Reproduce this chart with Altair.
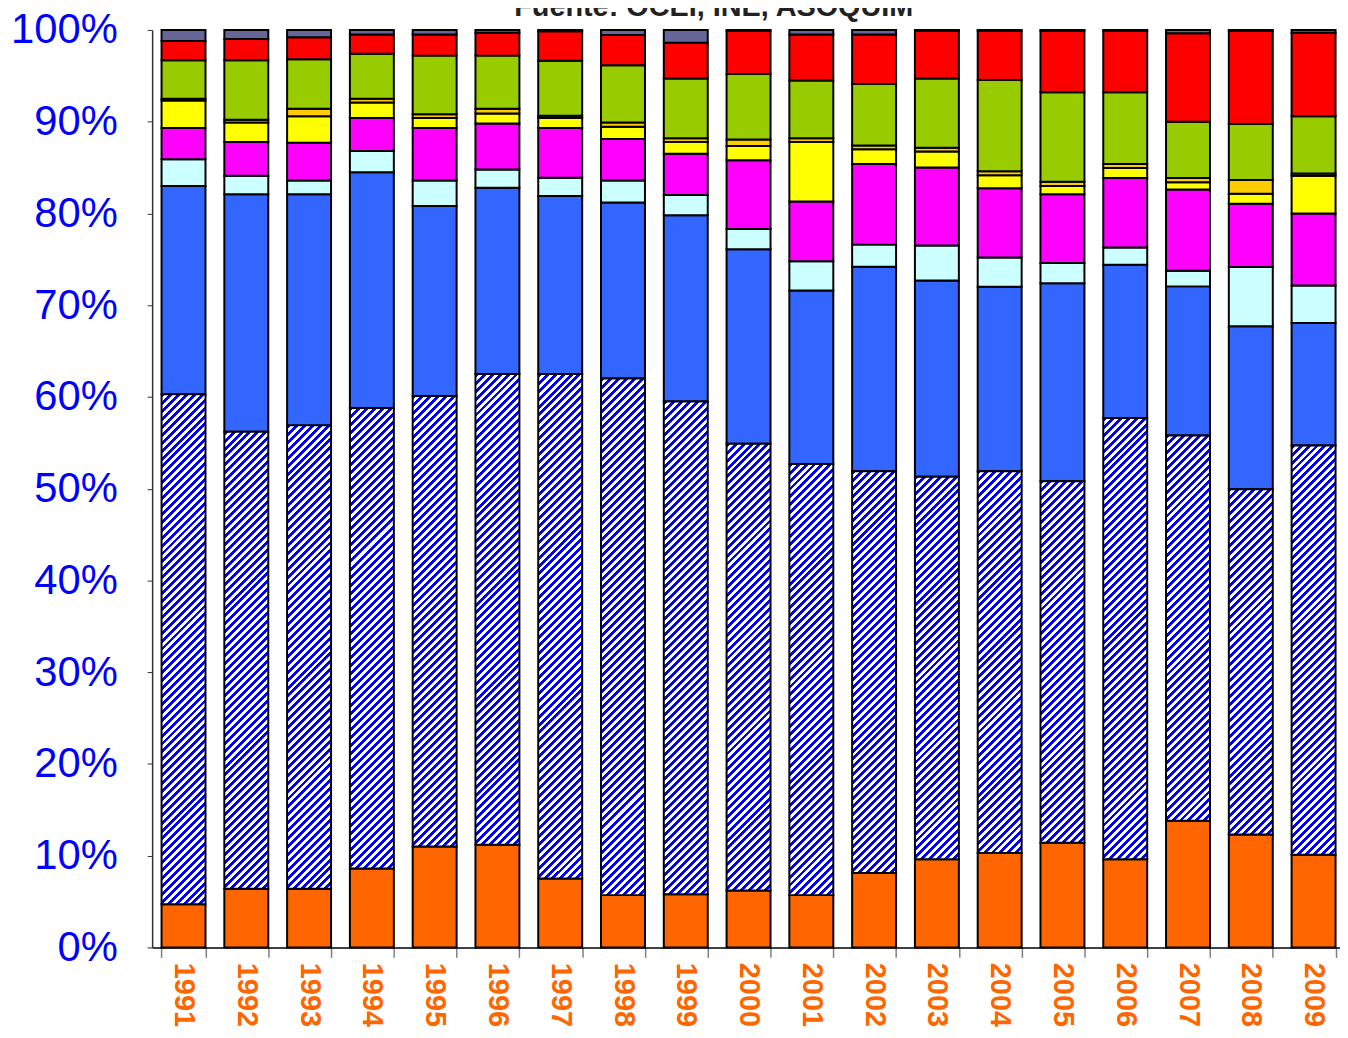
import altair as alt
import pandas as pd

# ---------------- data ----------------
years = [str(y) for y in range(1991, 2010)]

series_names = ["Naranja", "Azul rayado", "Azul", "Celeste", "Magenta",
                "Amarillo", "Dorado", "Verde", "Rojo", "Gris"]
series_colors = ["#FF6600", "#0000FF", "#3366FF", "#CCFFFF", "#FF00FF",
                 "#FFFF00", "#FFCC00", "#99CC00", "#FF0000", "#666699"]

s_orange = [4.7, 6.4, 6.4, 8.6, 11.0, 11.2, 7.5, 5.7, 5.8, 6.2, 5.7, 8.1, 9.6, 10.3, 11.4, 9.6, 13.8, 12.3, 10.1]
s_hatch = [55.6, 49.8, 50.5, 50.2, 49.1, 51.3, 55.0, 56.3, 53.7, 48.7, 47.0, 43.8, 41.7, 41.6, 39.4, 48.1, 42.0, 37.65, 44.6]
s_blue = [22.7, 25.9, 25.2, 25.7, 20.7, 20.3, 19.4, 19.2, 20.3, 21.2, 18.9, 22.3, 21.4, 20.1, 21.6, 16.7, 16.25, 17.75, 13.35]
s_cyan = [2.9, 2.0, 1.5, 2.3, 2.8, 2.0, 2.0, 2.4, 2.2, 2.2, 3.2, 2.4, 3.8, 3.2, 2.2, 1.9, 1.7, 6.45, 4.1]
s_magenta = [3.4, 3.7, 4.1, 3.6, 5.7, 5.0, 5.4, 4.5, 4.5, 7.5, 6.5, 8.8, 8.5, 7.55, 7.5, 7.55, 8.85, 6.9, 7.85]
s_yellow = [3.0, 2.1, 2.9, 1.7, 1.1, 1.1, 1.1, 1.35, 1.3, 1.55, 6.5, 1.6, 1.75, 1.4, 0.9, 1.1, 0.8, 1.1, 4.1]
s_gold = [0.2, 0.3, 0.8, 0.4, 0.4, 0.5, 0.25, 0.45, 0.4, 0.7, 0.4, 0.4, 0.4, 0.45, 0.45, 0.45, 0.45, 1.5, 0.25]
s_green = [4.2, 6.5, 5.4, 4.9, 6.4, 5.8, 6.0, 6.25, 6.5, 7.15, 6.3, 6.7, 7.55, 9.95, 9.75, 7.8, 6.15, 6.1, 6.25]
s_red = [2.1, 2.3, 2.4, 2.1, 2.3, 2.5, 3.2, 3.3, 3.9, 4.7, 5.0, 5.4, 5.2, 5.35, 6.7, 6.7, 9.65, 10.15, 9.1]
s_gray = [1.2, 1.0, 0.8, 0.5, 0.5, 0.3, 0.15, 0.55, 1.4, 0.1, 0.5, 0.5, 0.1, 0.1, 0.1, 0.1, 0.35, 0.1, 0.3]

all_series = [s_orange, s_hatch, s_blue, s_cyan, s_magenta,
              s_yellow, s_gold, s_green, s_red, s_gray]

y_ticks = [0, 10, 20, 30, 40, 50, 60, 70, 80, 90, 100]
title_text = "Fuente: OCEI, INE, ASOQUIM"

rows = []
for order, (name, vals) in enumerate(zip(series_names, all_series)):
    for yr, v in zip(years, vals):
        rows.append({"year": yr, "serie": name, "orden": order, "valor": v})
df = pd.DataFrame(rows)

# ---------------- layout ----------------
PLOT_W = 1195          # visible plot width
X_RANGE = 1200         # band range (runs to the right edge, like the original)
PLOT_H = 923
PAD_INNER = 0.3
step = X_RANGE / len(years)
bar_w = step * (1 - PAD_INNER)
HATCH = series_names[1]

x_enc = alt.X("year:O", scale=alt.Scale(domain=years, range=[0, X_RANGE],
                                        paddingInner=PAD_INNER,
                                        paddingOuter=PAD_INNER / 2),
              axis=alt.Axis(title=None, labelAngle=90, labelColor="#FF6600",
                            labelFont="Liberation Sans", labelFontWeight="bold",
                            labelFontSize=29, labelPadding=5, tickSize=10,
                            tickColor="#808080", tickWidth=1.5, domainColor="#000000",
                            domainWidth=1.5, tickBand="extent", labelAlign="left",
                            labelBaseline="middle"))
y_enc = alt.Y("y0:Q", scale=alt.Scale(domain=[0, 100], nice=False),
              axis=alt.Axis(title=None, values=y_ticks, labelExpr="datum.value + '%'",
                            labelColor="#0000FF", labelFont="Liberation Sans",
                            labelFontSize=42, labelPadding=30, tickSize=5,
                            tickColor="#333333", domainColor="#333333",
                            domainWidth=1.5))

base = alt.Chart(df).transform_stack(
    stack="valor", groupby=["year"], as_=["y0", "y1"],
    sort=[alt.SortField("orden", order="ascending")],
)

solid = base.transform_filter(alt.datum.serie != HATCH).mark_bar(
    stroke="#000000", strokeWidth=2
).encode(
    x=x_enc, y=y_enc, y2="y1:Q",
    color=alt.Color("serie:N", scale=alt.Scale(domain=series_names, range=series_colors),
                    legend=None),
)

layers = [solid]
PERIOD_H = 8.0  # horizontal stripe period in px
for yr, v in zip(years, s_hatch):
    W = bar_w
    H = v / 100.0 * PLOT_H
    s = (W + H) / (W * W + H * H)
    n = max(1, int(round((W + H) / PERIOD_H)))
    stops = []
    for k in range(n):
        a = k / n
        b = (k + 0.5) / n
        c = (k + 1) / n
        stops += [{"offset": round(a, 5), "color": "#0000FF"},
                  {"offset": round(b, 5), "color": "#0000FF"},
                  {"offset": round(b, 5), "color": "#FFFFFF"},
                  {"offset": round(c, 5), "color": "#FFFFFF"}]
    grad = {"gradient": "linear", "x1": 0, "y1": 0,
            "x2": round(s * W, 5), "y2": round(s * H, 5), "stops": stops}
    layer = base.transform_filter(
        (alt.datum.serie == HATCH) & (alt.datum.year == yr)
    ).mark_bar(fill=grad, stroke="#000000", strokeWidth=2).encode(
        x=x_enc, y=y_enc, y2="y1:Q"
    )
    layers.append(layer)

title_layer = alt.Chart(pd.DataFrame({"t": [title_text]})).mark_text(
    font="Liberation Sans", fontSize=29, fontWeight="bold", color="#222222",
    align="center", baseline="alphabetic"
).encode(text="t:N", x=alt.value(565), y=alt.value(-14))
layers.append(title_layer)

chart = alt.layer(*layers).properties(
    width=PLOT_W, height=PLOT_H,
    autosize=alt.AutoSizeParams(type="none"),
    padding={"left": 145, "top": 19, "right": 0, "bottom": 80},
).configure_view(stroke=None).configure_axis(grid=False)

chart.save("out.html", embed_options={"renderer": "svg", "actions": False})
